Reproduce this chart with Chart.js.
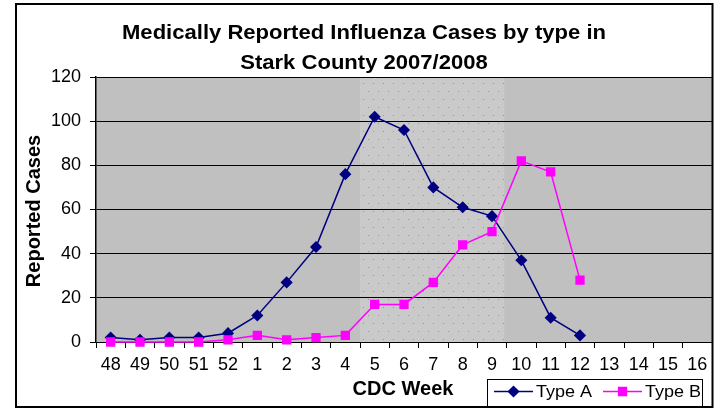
<!DOCTYPE html>
<html>
<head>
<meta charset="utf-8">
<script src="https://cdn.jsdelivr.net/npm/chart.js@4"></script>
<style>
  body { margin: 0; background: #fff; }
  #wrap { width: 719px; height: 408px; }
</style>
</head>
<body>
<div id="wrap"><canvas id="fluChart" width="719" height="408"></canvas></div>
<script>
const weeks = ["48", "49", "50", "51", "52", "1", "2", "3", "4", "5", "6", "7", "8", "9", "10", "11", "12", "13", "14", "15", "16"];
const typeA = [2, 1, 2, 2, 4, 12, 27, 43, 76, 102, 96, 70, 61, 57, 37, 11, 3, null, null, null, null];
const typeB = [0, 0, 0, 0, 1, 3, 1, 2, 3, 17, 17, 27, 44, 50, 82, 77, 28, null, null, null, null];
const yTicks = [0, 20, 40, 60, 80, 100, 120];
// peak season shading, in category index units
const peakFrom = 8.5;
const peakTo = 13.42;

const titleLines = ["Medically Reported Influenza Cases by type in", "Stark County 2007/2008"];

const makeDots = () => {
	const c = document.createElement("canvas");
	c.width = 10;
	c.height = 16;
	const g = c.getContext("2d");
	g.fillStyle = "#c9c9c9";
	g.fillRect(0, 0, 10, 16);
	g.fillStyle = "rgba(110,110,110,0.55)";
	g.fillRect(3, 3, 1, 1);
	g.fillRect(8, 11, 1, 1);
	g.fillStyle = "rgba(210,210,210,0.8)";
	g.fillRect(0, 7, 1, 1);
	g.fillRect(5, 14, 1, 1);
	return c;
};

const stretchText = (ctx, text, x, y, sx) => {
	ctx.save();
	ctx.translate(x, y);
	ctx.scale(sx, 1);
	ctx.fillText(text, 0, 0);
	ctx.restore();
};

const decor = {
	id: "decor",
	beforeDraw(chart) {
		const { ctx, chartArea: a, scales } = chart;
		ctx.save();
		ctx.fillStyle = "#fff";
		ctx.fillRect(0, 0, chart.width, chart.height);
		ctx.fillStyle = "#c0c0c0";
		ctx.fillRect(a.left, a.top, a.right - a.left, a.bottom - a.top);
		const x1 = scales.x.getPixelForValue(peakFrom);
		const x2 = scales.x.getPixelForValue(peakTo);
		ctx.fillStyle = ctx.createPattern(makeDots(), "repeat");
		ctx.fillRect(x1, a.top, x2 - x1, a.bottom - a.top);
		ctx.restore();
	},
	afterDraw(chart) {
		const { ctx } = chart;
		ctx.save();
		ctx.fillStyle = "#000";
		ctx.textAlign = "center";
		ctx.textBaseline = "alphabetic";
		ctx.font = "bold 21px 'Liberation Sans', Arial, sans-serif";
		stretchText(ctx, titleLines[0], 364, 39, 1.05);
		stretchText(ctx, titleLines[1], 364, 69, 1.05);

		ctx.font = "bold 20px 'Liberation Sans', Arial, sans-serif";
		ctx.fillText("CDC Week", 403, 395);
		ctx.save();
		ctx.translate(40, 211);
		ctx.rotate(-Math.PI / 2);
		ctx.fillText("Reported Cases", 0, 0);
		ctx.restore();

		// legend
		ctx.fillStyle = "#fff";
		ctx.fillRect(487, 379, 216, 28);
		ctx.strokeStyle = "#000";
		ctx.lineWidth = 1;
		ctx.strokeRect(487.5, 379.5, 215, 27);
		const items = [
			{ ds: chart.data.datasets[0], x: 494 },
			{ ds: chart.data.datasets[1], x: 603 },
		];
		ctx.font = "17px 'Liberation Sans', Arial, sans-serif";
		ctx.textAlign = "left";
		items.forEach(({ ds, x }) => {
			ctx.strokeStyle = ds.borderColor;
			ctx.lineWidth = 1.5;
			ctx.beginPath();
			ctx.moveTo(x, 391.5);
			ctx.lineTo(x + 39, 391.5);
			ctx.stroke();
			Chart.helpers.drawPoint(ctx, {
				pointStyle: ds.pointStyle,
				radius: ds.pointRadius,
				borderWidth: 1,
			}, x + 19.5, 391.5);
			ctx.fillStyle = ds.pointBackgroundColor;
			ctx.fill();
			ctx.fillStyle = "#000";
			stretchText(ctx, ds.label, x + 42, 397, 1.06);
		});

		// outer frame
		ctx.strokeStyle = "#000";
		ctx.lineWidth = 2;
		ctx.strokeRect(16, 4, 696.5, 403);
		ctx.restore();
	},
};

const tickFont = { family: "'Liberation Sans', Arial, sans-serif", size: 18 };

new Chart("fluChart", {
	type: "line",
	data: {
		labels: weeks,
		datasets: [
			{
				label: "Type A",
				data: typeA,
				order: 1,
				clip: false,
				borderColor: "#000080",
				backgroundColor: "#000080",
				pointBackgroundColor: "#000080",
				pointBorderColor: "#000080",
				pointStyle: "rectRot",
				pointRadius: 5,
				borderWidth: 1.5,
				tension: 0,
			},
			{
				label: "Type B",
				data: typeB,
				order: 0,
				clip: false,
				borderColor: "#ff00ff",
				backgroundColor: "#ff00ff",
				pointBackgroundColor: "#ff00ff",
				pointBorderColor: "#ff00ff",
				pointStyle: "rect",
				pointRadius: 5.5,
				borderWidth: 1.5,
				tension: 0,
			},
		],
	},
	options: {
		responsive: false,
		animation: false,
		layout: { padding: { top: 77, right: 7, left: 0, bottom: 0 } },
		plugins: {
			legend: { display: false },
			title: { display: false },
			tooltip: { enabled: false },
		},
		scales: {
			x: {
				offset: true,
				grid: { drawOnChartArea: false, tickLength: 6, color: "#000", offset: true },
				border: { color: "#000", width: 1 },
				ticks: { font: tickFont, color: "#000", padding: 6, maxRotation: 0, autoSkip: false },
				afterFit: (s) => { s.height = 66; },
			},
			y: {
				min: 0,
				max: 120,
				afterBuildTicks: (s) => { s.ticks = yTicks.map((v) => ({ value: v })); },
				grid: { color: "#000", tickLength: 6 },
				border: { color: "#000", width: 1.5 },
				ticks: { font: tickFont, color: "#000", padding: 9 },
				afterFit: (s) => { s.width = 96; },
			},
		},
	},
	plugins: [decor],
});
</script>
</body>
</html>
